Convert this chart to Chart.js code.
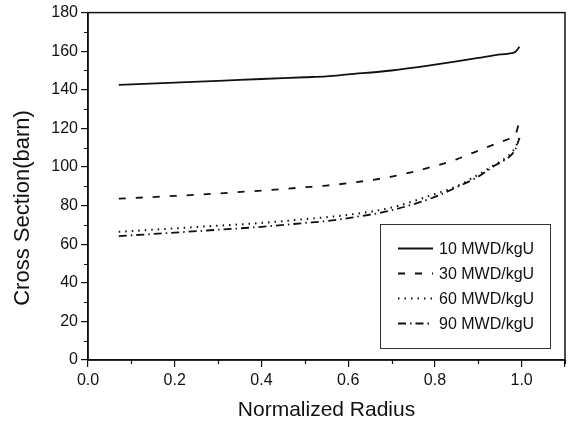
<!DOCTYPE html>
<html>
<head>
<meta charset="utf-8">
<script src="https://cdn.jsdelivr.net/npm/chart.js@4/dist/chart.umd.min.js"></script>
<style>
html,body{margin:0;padding:0;background:#fff;}
#wrap{width:569px;height:422px;position:relative;}
</style>
</head>
<body>
<div id="wrap"><canvas id="c" width="569" height="422"></canvas></div>
<script>
const radius = [0.071, 0.2, 0.3, 0.4, 0.5, 0.55, 0.6, 0.7, 0.8, 0.85, 0.9, 0.94, 0.97, 0.985, 0.995];
const seriesLabels = ['10 MWD/kgU', '30 MWD/kgU', '60 MWD/kgU', '90 MWD/kgU'];
const xs10 = [142.5, 143.7, 144.6, 145.6, 146.5, 147.0, 148.0, 150.0, 153.0, 154.7, 156.5, 158.0, 158.8, 159.6, 162.3];
const xs30 = [83.6, 85.0, 86.3, 87.8, 89.5, 90.4, 91.6, 95.0, 100.5, 104.0, 108.5, 112.0, 114.5, 116.3, 124.0];
const xs60 = [66.4, 68.2, 69.6, 71.0, 73.0, 74.0, 75.2, 79.0, 86.0, 90.0, 96.0, 101.5, 106.0, 110.0, 115.0];
const xs90 = [64.2, 66.0, 67.5, 69.0, 71.0, 72.0, 73.5, 77.6, 84.5, 89.5, 95.0, 101.0, 105.0, 109.0, 115.0];
const xTickLabels = ['0.0', '0.2', '0.4', '0.6', '0.8', '1.0'];
const yTickLabels = ['0', '20', '40', '60', '80', '100', '120', '140', '160', '180'];
const xMinorTicks = [0.1, 0.3, 0.5, 0.7, 0.9, 1.1];
const yMinorTicks = [10, 30, 50, 70, 90, 110, 130, 150, 170];
const yTitle = 'Cross Section(barn)';
const xTitle = 'Normalized Radius';

const FONT = '"Liberation Sans", Arial, sans-serif';
const pts = arr => radius.map((r, i) => ({x: r, y: arr[i]}));
const dashes = [[], [7, 10], [1.5, 5], [8, 4, 1.5, 4]];
const allData = [xs10, xs30, xs60, xs90];

const datasets = allData.map((d, i) => ({
  label: seriesLabels[i],
  data: pts(d),
  borderColor: '#111',
  borderWidth: i === 2 ? 2 : 1.8,
  borderDash: dashes[i],
  pointRadius: 0,
  fill: false,
  tension: 0.3,
  cubicInterpolationMode: 'monotone'
}));

const framePlugin = {
  id: 'frame',
  afterDatasetsDraw(chart) {
    const {ctx, chartArea: a, scales} = chart;
    ctx.save();
    ctx.strokeStyle = '#111';
    ctx.lineWidth = 1.5;
    ctx.strokeRect(a.left, a.top, a.right - a.left, a.bottom - a.top);
    // minor ticks
    ctx.lineWidth = 1.2;
    ctx.beginPath();
    xMinorTicks.forEach(v => {
      const px = Math.round(scales.x.getPixelForValue(v)) + 0.5;
      ctx.moveTo(px, a.bottom);
      ctx.lineTo(px, a.bottom + 4);
    });
    yMinorTicks.forEach(v => {
      const py = Math.round(scales.y.getPixelForValue(v)) + 0.5;
      ctx.moveTo(a.left, py);
      ctx.lineTo(a.left - 4, py);
    });
    ctx.stroke();
    // y title
    ctx.save();
    ctx.translate(23, 208);
    ctx.rotate(-Math.PI / 2);
    ctx.fillStyle = '#111';
    ctx.font = '22px ' + FONT;
    ctx.textAlign = 'center';
    ctx.textBaseline = 'middle';
    ctx.fillText(yTitle, 0, 0);
    ctx.restore();
    // legend box
    const bx = 380.5, by = 224.5, bw = 170, bh = 124;
    ctx.fillStyle = '#fff';
    ctx.fillRect(bx, by, bw, bh);
    ctx.lineWidth = 1;
    ctx.strokeStyle = '#333';
    ctx.strokeRect(bx, by, bw, bh);
    chart.data.datasets.forEach((ds, i) => {
      const y = 248.5 + i * 25;
      ctx.beginPath();
      ctx.setLineDash(ds.borderDash || []);
      ctx.lineWidth = ds.borderWidth;
      ctx.strokeStyle = ds.borderColor;
      ctx.moveTo(398, y);
      ctx.lineTo(433, y);
      ctx.stroke();
      ctx.setLineDash([]);
      ctx.fillStyle = '#111';
      ctx.font = '16px ' + FONT;
      ctx.textBaseline = 'middle';
      ctx.textAlign = 'left';
      ctx.fillText(ds.label, 439, y + 1);
    });
    ctx.restore();
  }
};

new Chart(document.getElementById('c'), {
  type: 'line',
  data: {datasets},
  plugins: [framePlugin],
  options: {
    responsive: false,
    animation: false,
    layout: {padding: {top: 12, right: 2, left: 0, bottom: 0}},
    plugins: {legend: {display: false}, tooltip: {enabled: false}},
    scales: {
      x: {
        type: 'linear',
        min: 0, max: 1.1,
        afterFit(s) { s.height = 62; },
        ticks: {
          stepSize: 0.2,
          autoSkip: false,
          maxRotation: 0,
          color: '#111',
          padding: 4,
          font: {family: FONT, size: 16},
          callback(v) {
            const k = Math.round(v * 5);
            return k < xTickLabels.length ? xTickLabels[k] : '';
          }
        },
        grid: {drawOnChartArea: false, tickLength: 7, color: '#111', lineWidth: 1.2},
        border: {display: true, color: '#111', width: 1.5},
        title: {display: true, text: xTitle, color: '#111', font: {family: FONT, size: 21, lineHeight: 1}, padding: {top: 4, bottom: 1}}
      },
      y: {
        min: 0, max: 180,
        afterFit(s) { s.width = 88; },
        ticks: {
          stepSize: 20,
          autoSkip: false,
          color: '#111',
          padding: 3,
          font: {family: FONT, size: 16},
          callback(v) {
            const k = Math.round(v / 20);
            return yTickLabels[k];
          }
        },
        grid: {drawOnChartArea: false, tickLength: 7, color: '#111', lineWidth: 1.2},
        border: {display: true, color: '#111', width: 1.5},
        title: {display: false}
      }
    }
  }
});
</script>
</body>
</html>
